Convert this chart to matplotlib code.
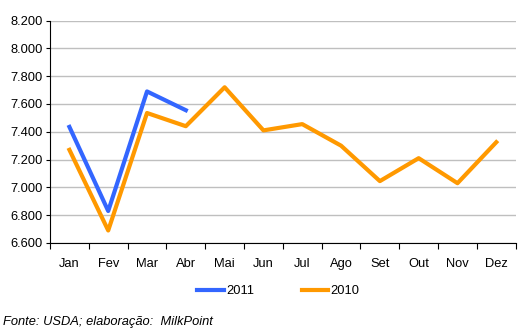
import numpy as np
import matplotlib.pyplot as plt

plt.rcParams['font.family'] = ['Liberation Sans', 'DejaVu Sans']

meses = ["Jan", "Fev", "Mar", "Abr", "Mai", "Jun", "Jul", "Ago", "Set", "Out", "Nov", "Dez"]
v2011 = [7.435, 6.83, 7.69, 7.555]
v2010 = [7.27, 6.69, 7.535, 7.44, 7.72, 7.41, 7.455, 7.30, 7.045, 7.21, 7.03, 7.325]

fs = 9.3

fig = plt.figure(figsize=(5.28, 3.34), dpi=100)
ax = fig.add_axes([0.0947, 0.2725, 0.882, 0.666])

x = np.arange(len(meses))
ax.plot(x[:len(v2011)], v2011, color="#3366ff", lw=3, label="2011", zorder=3)
ax.plot(x, v2010, color="#ff9900", lw=3, label="2010", zorder=2)

ax.set_xlim(-0.5, 11.5)
ax.set_ylim(6.6, 8.2)
yt = np.arange(6.6, 8.201, 0.2)
ax.set_yticks(yt)
ax.set_yticklabels([f"{v:.3f}" for v in yt])
ax.yaxis.grid(True, color="#bfbfbf", lw=1)
ax.set_axisbelow(True)

# ticks at month boundaries, labels centred on months
ax.set_xticks(np.arange(-0.5, 12, 1))
ax.set_xticklabels([])
ax.set_xticks(x, minor=True)
ax.set_xticklabels(meses, minor=True)
ax.tick_params(axis="x", which="minor", length=0, pad=11, labelsize=fs)
ax.tick_params(axis="x", which="major", length=4, direction="out", color="black")
ax.tick_params(axis="y", length=3, direction="out", labelsize=fs, pad=2)

for s in ["top", "right"]:
    ax.spines[s].set_visible(False)
ax.spines["left"].set_color("black")
ax.spines["bottom"].set_color("black")

fig.legend(loc="center", bbox_to_anchor=(0.527, 0.128), ncol=2, frameon=False,
           fontsize=fs, handlelength=2.05, handletextpad=0.15, columnspacing=3.7)

fig.text(0.006, 0.035, "Fonte: USDA; elaboração:  MilkPoint", fontsize=fs,
         style="italic", ha="left", va="center")

fig.savefig("out.png", dpi=100)
